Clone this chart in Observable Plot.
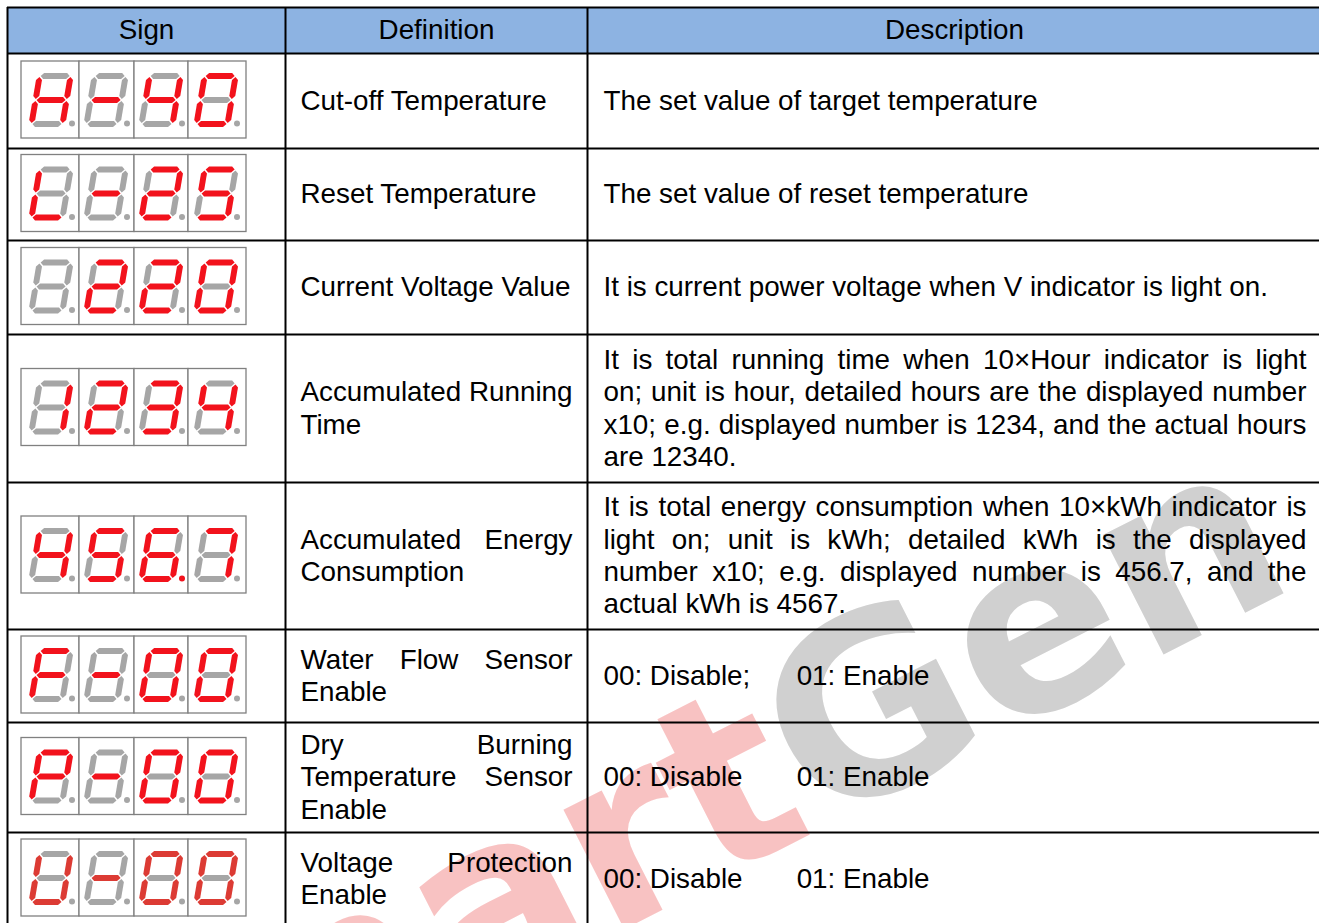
<!DOCTYPE html>
<html><head><meta charset="utf-8">
<script src="https://cdn.jsdelivr.net/npm/d3@7"></script>
<script src="https://cdn.jsdelivr.net/npm/@observablehq/plot@0.6"></script>
<style>
html,body{margin:0;padding:0;background:#fff;}
svg{display:block;}
</style></head><body><div id="chart"></div>
<script>
// ---------------- data ----------------
const headers = ["Sign", "Definition", "Description"];
const signs = ["H-40", "L-25", " 220", "1234", "456.7", "F-00", "P-00", "U-00"];
const definitions = [
  ["Cut-off Temperature"],
  ["Reset Temperature"],
  ["Current Voltage Value"],
  ["Accumulated Running", "Time"],
  ["Accumulated Energy", "Consumption"],
  ["Water Flow Sensor", "Enable"],
  ["Dry Burning", "Temperature Sensor", "Enable"],
  ["Voltage Protection", "Enable"]
];
const descriptions = [
  ["The set value of target temperature"],
  ["The set value of reset temperature"],
  ["It is current power voltage when V indicator is light on."],
  ["It is total running time when 10×Hour indicator is light",
   "on; unit is hour, detailed hours are the displayed number",
   "x10; e.g. displayed number is 1234, and the actual hours",
   "are 12340."],
  ["It is total energy consumption when 10×kWh indicator is",
   "light on; unit is kWh; detailed kWh is the displayed",
   "number x10; e.g. displayed number is 456.7, and the",
   "actual kWh is 4567."],
  ["00: Disable;      01: Enable"],
  ["00: Disable       01: Enable"],
  ["00: Disable       01: Enable"]
];
const watermark = ["Smart", "Gen"];
// seven-segment glyph table (a top, b upper right, c lower right, d bottom, e lower left, f upper left, g middle)
const glyphs = {" ": "", "-": "g", "0": "abcdef", "1": "bc", "2": "abdeg", "3": "abcdg", "4": "bcfg",
  "5": "acdfg", "6": "acdefg", "7": "abc", "H": "bcefg", "L": "def", "F": "aefg", "P": "abefg", "U": "bcdef"};

// ---------------- layout ----------------
const W = 1319, H = 923;
const colEdges = [7, 285, 587, 1321];
const rowEdges = [7, 53, 148, 240, 334, 482, 629, 722, 832, 925];
const FS = 27.8, LINE = 32.3, PAD = 15;
const FONT = "Liberation Sans";
const cellOffsets = [14, 72, 127, 181, 239];   // display cell edges relative to table left
const BOX_H = 77;
const DW = 31, DH = 48, SLANT = 0.17, HT = 3.0, GAP = 1.0;
const RED = "#f2121c", RED_SOFT = "#dc3b34", GRAY = "#a6a6a6";

const ctx = document.createElement("canvas").getContext("2d");
ctx.font = `${FS}px "${FONT}"`;
const tw = s => ctx.measureText(s).width;

// ---------------- build marks data ----------------
const boxes = [], segPolys = [], dps = [], texts = [];
signs.forEach((sign, r) => {
  const cy = (rowEdges[r + 1] + rowEdges[r + 2]) / 2;
  const top = cy - 1 - BOX_H / 2;
  const chars = [];
  for (const ch of sign) {
    if (ch === "." && chars.length) chars[chars.length - 1].dp = true;
    else chars.push({ch, dp: false});
  }
  const lit = r === 7 ? RED_SOFT : RED;
  chars.forEach((c, i) => {
    const left = colEdges[0] + cellOffsets[i];
    boxes.push({x1: left, x2: colEdges[0] + cellOffsets[i + 1], y1: top, y2: top + BOX_H});
    const ox = colEdges[0] + cellOffsets[0] + 10 + 55 * i; // bottom-left centre of digit
    const oy = top + 62.5;
    const P = (x, y) => [ox + x + SLANT * (DH - y), oy - DH + y];
    const hseg = y => [[GAP, y], [GAP + HT, y - HT], [DW - GAP - HT, y - HT], [DW - GAP, y], [DW - GAP - HT, y + HT], [GAP + HT, y + HT]];
    const vseg = (x, y1, y2) => [[x, y1 + GAP], [x + HT, y1 + GAP + HT], [x + HT, y2 - GAP - HT], [x, y2 - GAP], [x - HT, y2 - GAP - HT], [x - HT, y1 + GAP + HT]];
    const segs = {a: hseg(0), g: hseg(DH / 2), d: hseg(DH), f: vseg(0, 0, DH / 2), b: vseg(DW, 0, DH / 2), e: vseg(0, DH / 2, DH), c: vseg(DW, DH / 2, DH)};
    const on = glyphs[c.ch] || "";
    for (const k of "abcdefg") {
      const id = `${r}-${i}-${k}`;
      const color = on.includes(k) ? lit : GRAY;
      segs[k].forEach(([x, y]) => { const [px, py] = P(x, y); segPolys.push({id, x: px, y: py, color}); });
    }
    dps.push({x: colEdges[0] + cellOffsets[0] + 50.5 + 55 * i, y: top + 62, color: c.dp ? lit : GRAY});
  });

  // paragraph placement (justified except the last line)
  const place = (lines, x0, x1) => {
    const n = lines.length;
    lines.forEach((line, li) => {
      const y = cy + (li - (n - 1) / 2) * LINE;
      if (n > 1 && li < n - 1) {
        const words = line.split(" ");
        const widths = words.map(tw);
        const gap = (x1 - x0 - d3.sum(widths)) / (words.length - 1);
        let x = x0;
        words.forEach((w, wi) => { texts.push({x, y, t: w}); x += widths[wi] + gap; });
      } else {
        const parts = line.split(/( {2,})/);
        let x = x0;
        parts.forEach(p => {
          if (/^ {2,}$/.test(p)) x += p.length * tw(" ");
          else if (p.length) { texts.push({x, y, t: p}); x += tw(p); }
        });
      }
    });
  };
  place(definitions[r], colEdges[1] + PAD, colEdges[2] - PAD);
  place(descriptions[r], colEdges[2] + PAD + 1, colEdges[3] - PAD);
});

const headerCells = headers.map((h, i) => ({t: h, x: (colEdges[i] + colEdges[i + 1]) / 2, y: (rowEdges[0] + rowEdges[1]) / 2}));
const wmAnchor = {x: 782, y: 760};
const WM_SIZE = 245, WM_ROT = -27, WM_FONT = "DejaVu Sans";

const chart = Plot.plot({
  width: W, height: H, margin: 0,
  x: {domain: [0, W], range: [0, W], axis: null},
  y: {domain: [0, H], range: [0, H], axis: null},
  color: {type: "identity"},
  style: {background: "white"},
  marks: [
    Plot.rect([0], {x1: () => colEdges[0], x2: () => colEdges[3], y1: () => rowEdges[0], y2: () => rowEdges[1], fill: "#8db3e2"}),
    Plot.text([watermark[0]], {x: () => wmAnchor.x, y: () => wmAnchor.y, text: d => d, textAnchor: "end", rotate: WM_ROT, fontSize: WM_SIZE, fontWeight: "bold", fontFamily: WM_FONT, fill: "#f8c2c2"}),
    Plot.text([watermark[1]], {x: () => wmAnchor.x, y: () => wmAnchor.y, text: d => d, textAnchor: "start", rotate: WM_ROT, fontSize: WM_SIZE, fontWeight: "bold", fontFamily: WM_FONT, fill: "#d0d0d0"}),
    Plot.ruleY(rowEdges, {y: d => d, x1: () => colEdges[0], x2: () => colEdges[3], stroke: "black", strokeWidth: 2}),
    Plot.ruleX(colEdges, {x: d => d, y1: () => rowEdges[0], y2: () => rowEdges[rowEdges.length - 1], stroke: "black", strokeWidth: 2}),
    Plot.rect(boxes, {x1: "x1", x2: "x2", y1: "y1", y2: "y2", fill: "white", stroke: "#808080", strokeWidth: 1.3}),
    Plot.line(segPolys, {x: "x", y: "y", z: "id", fill: "color", stroke: "none", curve: "linear-closed"}),
    Plot.dot(dps, {x: "x", y: "y", r: 3, fill: "color", stroke: "none"}),
    Plot.text(headerCells, {x: "x", y: "y", text: "t", textAnchor: "middle", fontSize: FS, fontFamily: FONT, fill: "black"}),
    Plot.text(texts, {x: "x", y: "y", text: "t", textAnchor: "start", fontSize: FS, fontFamily: FONT, fill: "black"})
  ]
});
document.getElementById("chart").appendChild(chart);
</script>
</body></html>
